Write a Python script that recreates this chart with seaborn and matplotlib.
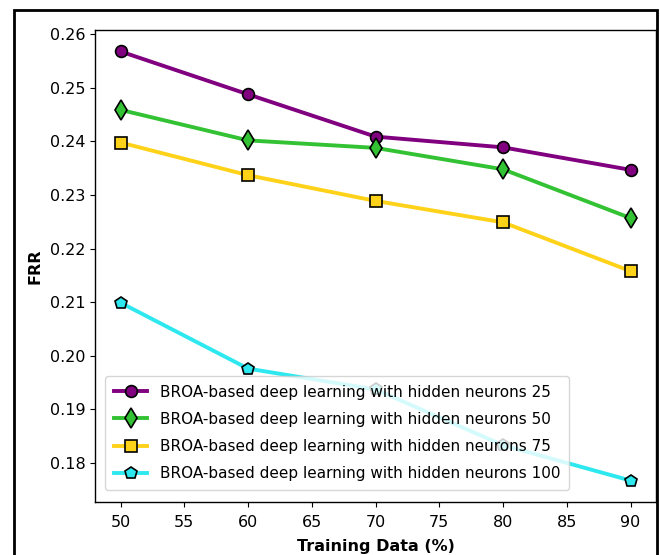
import matplotlib
matplotlib.use("Agg")
import matplotlib.pyplot as plt
import seaborn as sns
import pandas as pd
from matplotlib.patches import Rectangle

training = [50, 60, 70, 80, 90]
frr_25 = [0.2568, 0.2488, 0.2409, 0.2389, 0.2347]
frr_50 = [0.2459, 0.2402, 0.2388, 0.2348, 0.2257]
frr_75 = [0.2398, 0.2337, 0.2289, 0.2249, 0.2158]
frr_100 = [0.2099, 0.1976, 0.1937, 0.1833, 0.1767]
labels = ["BROA-based deep learning with hidden neurons 25",
          "BROA-based deep learning with hidden neurons 50",
          "BROA-based deep learning with hidden neurons 75",
          "BROA-based deep learning with hidden neurons 100"]

series = [frr_25, frr_50, frr_75, frr_100]
colors = ["#800080", "#33c233", "#ffd21a", "#2ee8ef"]
markers = ["o", "d", "s", "p"]
msizes = [8.5, 10, 8.5, 9]

fig = plt.figure(figsize=(6.6, 5.55), dpi=100)
ax = fig.add_axes([95/660, 1-502/555, (656-95)/660, (502-30)/555])

for vals, lab, c, m, ms in zip(series, labels, colors, markers, msizes):
    df = pd.DataFrame({"x": training, "y": vals})
    sns.lineplot(data=df, x="x", y="y", ax=ax, color=c, marker=m, markersize=ms,
                 markeredgecolor="black", markeredgewidth=1.2, linewidth=2.8, label=lab)

ax.set_xticks([50, 55, 60, 65, 70, 75, 80, 85, 90])
ax.set_yticks([0.18, 0.19, 0.20, 0.21, 0.22, 0.23, 0.24, 0.25, 0.26])
ax.set_yticklabels(["0.18", "0.19", "0.20", "0.21", "0.22", "0.23", "0.24", "0.25", "0.26"])
ax.tick_params(labelsize=11.5)
ax.tick_params(axis="x", pad=6)
ax.set_xlabel("Training Data (%)", fontsize=11.5, fontweight="bold", labelpad=6)
ax.set_ylabel("FRR", fontsize=11.5, fontweight="bold", labelpad=5)
for s in ax.spines.values():
    s.set_color("black")
    s.set_linewidth(1.0)

leg = ax.legend(loc="lower left", fontsize=11, framealpha=0.8,
                bbox_to_anchor=(0.005, 0.01), handlelength=2.2,
                labelspacing=0.8, borderpad=0.55)

fig.patches.append(Rectangle((14/660, -0.05), (657-14)/660, 1.05 - 10/555,
                             transform=fig.transFigure, fill=False,
                             edgecolor="black", linewidth=2.0))

fig.savefig("out.png", dpi=100)
